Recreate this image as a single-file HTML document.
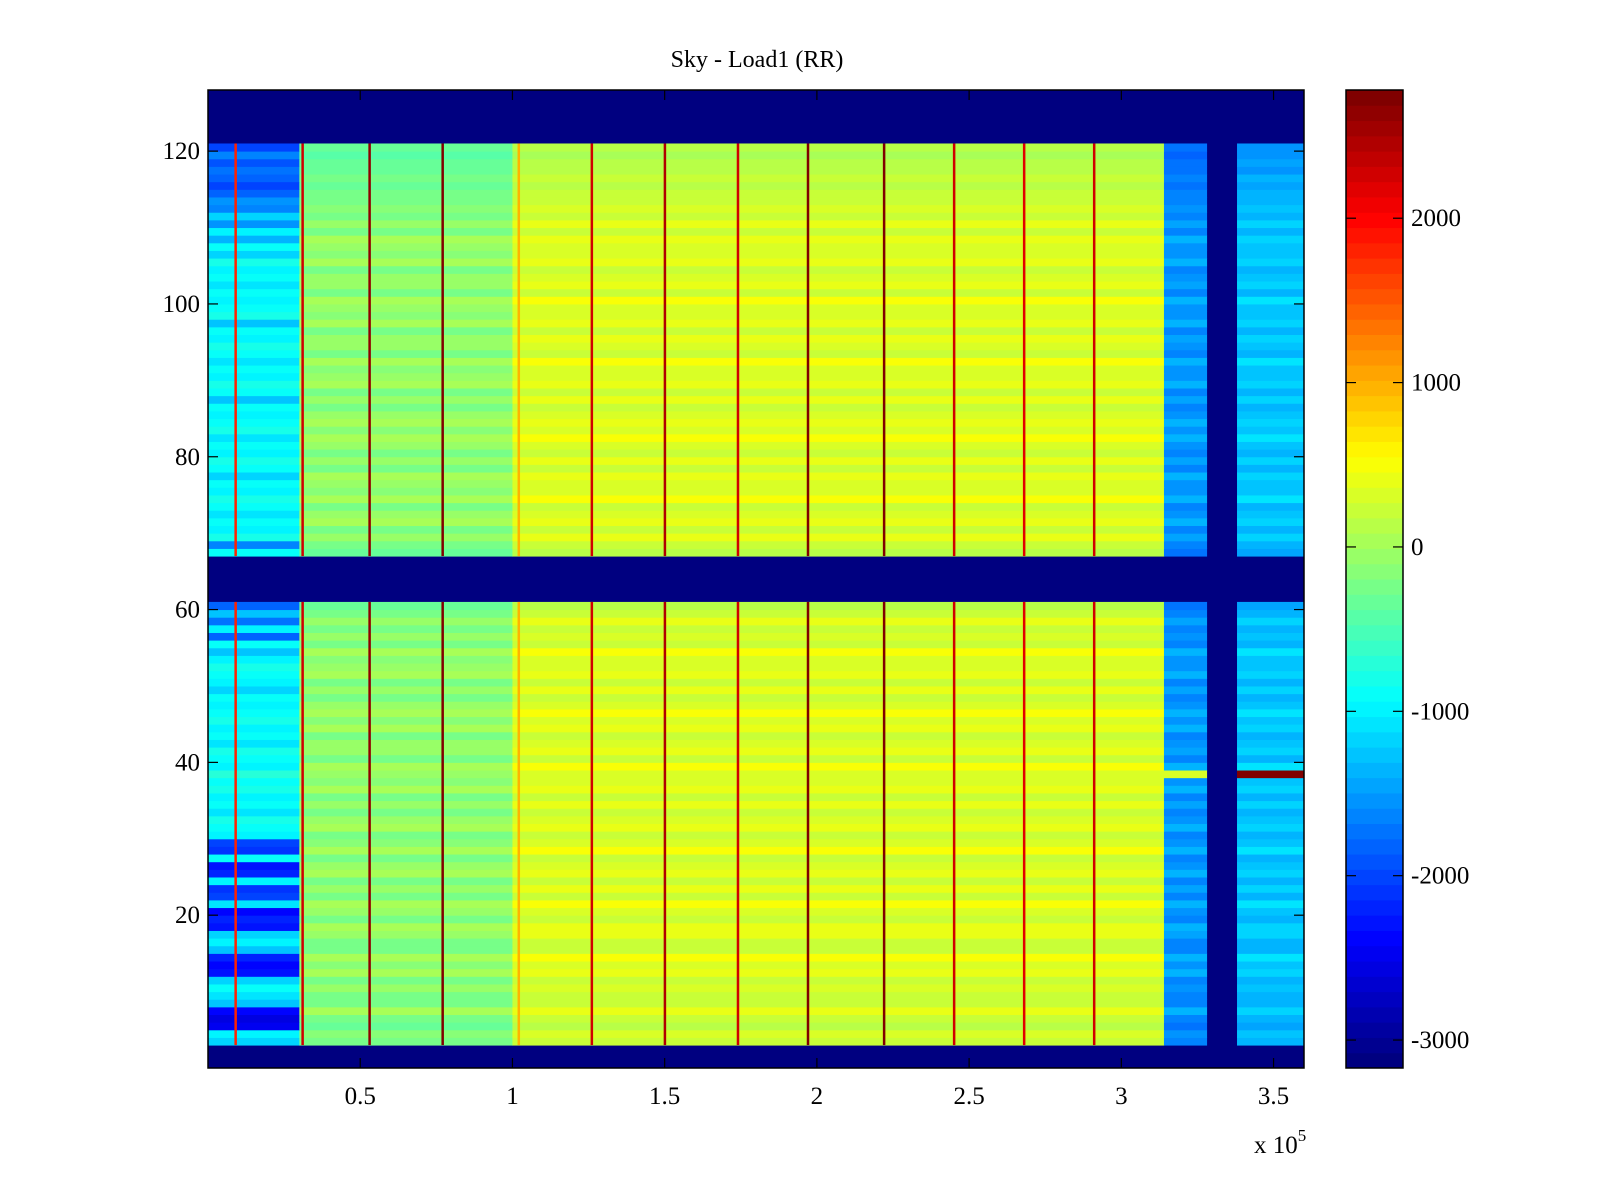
<!DOCTYPE html>
<html><head><meta charset="utf-8"><style>
html,body{margin:0;padding:0;background:#fff;}
svg{display:block;font-family:"Liberation Serif",serif;}
</style></head><body>
<svg id="chart" width="1600" height="1200">
<text x="757" y="67" font-size="24" text-anchor="middle">Sky - Load1 (RR)</text>
<g id="plot"></g>
<g id="axes"></g>
<g id="cbar"></g>
</svg>
<script>
// ---- data ----
const xTicks = [0.5, 1, 1.5, 2, 2.5, 3, 3.5];
const yTicks = [20, 40, 60, 80, 100, 120];
const cbarTicks = [-3000, -2000, -1000, 0, 1000, 2000];
const bandStart = [0, 0.3, 1.0, 3.14, 3.38];
const bandEnd   = [0.3, 1.0, 3.14, 3.28, 3.6];
const bandBase  = [null, -100, 350, -1500, -1250];
// data row blocks (other rows are empty / lowest colour)
const blockFirstRow = [4, 68];
// left band values, rows 4..61 and rows 68..121
const leftLower = [
 -1200,-1000,-2500,-2600,-2400,
 -1300,-1100,-900,-1200,-2300,-2400,-2200,-1300,
 -1000,-1200,-2300,-2200,-2400,-1100,-2000,-2100,
 -1000,-2200,-2300,-900,-2100,-2000,-1000,-900,
 -800,-1100,-900,-1000,-800,-900,-700,-1000,
 -900,-800,-1100,-900,-1000,-800,-900,-1000,
 -900,-1200,-1000,-900,-800,-1000,-1300,-900,
 -1800,-1000,-1700,-1300,-1800
];
const leftUpper = [
 -900,-1600,-800,-1000,-900,-1100,-900,-800,
 -1000,-900,-1200,-900,-800,-1000,-900,-1100,
 -800,-900,-1000,-900,-1300,-900,-800,-1000,
 -900,-1100,-900,-800,-1000,-900,-1300,-800,
 -900,-1000,-900,-1100,-900,-1000,-800,-1200,
 -900,-1400,-1000,-1500,-1200,-1600,-1500,-1800,
 -2000,-1800,-1700,-1900,-1600,-2000
];
// per-row offsets for the other bands
const offLower = [
 -150,-50,-200,-100,100,
 -100,-150,0,-100,100,-50,150,-100,
 -150,50,100,-150,0,150,-100,50,
 -150,100,0,-150,150,-50,-100,100,
 0,-150,50,-100,100,-50,0,150,
 -100,50,0,-150,100,-50,150,0,
 -100,50,-150,100,0,-50,150,-100,
 0,-150,50,-100,-200
];
const offUpper = [
 -200,-100,50,-150,100,0,-100,150,
 -50,0,100,-150,50,-100,0,150,
 -50,100,0,-150,50,-100,100,0,
 -50,150,-100,0,50,-150,100,-50,
 0,150,-100,50,0,-150,100,-50,
 0,100,-150,50,-100,-50,-150,-100,
 -200,-150,-250,-200,-300,-250
];
const specialRow = 39;
const specialBandValues = [null, null, null, 300, 2700];
const stripeX = [0.09, 0.31, 0.53, 0.77, 1.02, 1.26, 1.50, 1.74, 1.97, 2.22, 2.45, 2.68, 2.91];
const stripeVal = [1800, 2300, 2600, 2700, 1000, 2300, 2500, 2300, 2700, 2700, 2300, 2200, 2300];

// ---- scales ----
const X0=208, X1=1304, Y0=90, Y1=1068, XMAX=3.6, NR=128;
const CMIN=-3170, CMAX=2780;
const xs = v => X0 + v/XMAX*(X1-X0);
const rowH = (Y1-Y0)/NR;
const ys = r => Y1 - r*rowH;
function jet(t){
  t=Math.max(0,Math.min(1,t));
  t=Math.floor(t*63.999)/63;
  const f=x=>Math.max(0,Math.min(1,x));
  const r=f(1.5-Math.abs(4*t-3)), g=f(1.5-Math.abs(4*t-2)), b=f(1.5-Math.abs(4*t-1));
  return `rgb(${Math.round(r*255)},${Math.round(g*255)},${Math.round(b*255)})`;
}
const col = v => jet((v-CMIN)/(CMAX-CMIN));
const NS="http://www.w3.org/2000/svg";
function mk(tag, attrs, parent){const e=document.createElementNS(NS,tag);for(const k in attrs)e.setAttribute(k,attrs[k]);parent.appendChild(e);return e;}

const plot=document.getElementById('plot');
const bg=mk('rect',{x:X0,y:Y0,width:X1-X0,height:Y1-Y0,fill:col(CMIN)},plot);


const blocks=[[leftLower,offLower],[leftUpper,offUpper]];
blocks.forEach(([lv,ov],bi)=>{
  lv.forEach((lval,i)=>{
    const r=blockFirstRow[bi]+i;
    for(let b=0;b<bandStart.length;b++){
      let v = b===0 ? lval : bandBase[b]+ov[i];
      if(r===specialRow && specialBandValues[b]!==null) v=specialBandValues[b];
      const c=mk('rect',{x:xs(bandStart[b]),y:ys(r),width:xs(bandEnd[b])-xs(bandStart[b])+0.5,height:rowH+0.5,fill:col(v)},plot);
      
      
    }
  });
});
blocks.forEach(([lv],bi)=>{
  const a=blockFirstRow[bi], b=a+lv.length-1;
  stripeX.forEach((sx,i)=>{
    const s=mk('rect',{x:xs(sx)-1,y:ys(b),width:2.5,height:(b-a+1)*rowH,fill:col(stripeVal[i])},plot);
    
    
  });
});

// ---- axes ----
const ax=document.getElementById('axes');
const frame=mk('rect',{x:X0,y:Y0,width:X1-X0,height:Y1-Y0,fill:'none',stroke:'#000','stroke-width':1.5},ax);


xTicks.forEach(t=>{
  const x=xs(t);
  mk('line',{x1:x,y1:Y1,x2:x,y2:Y1-10,stroke:'#000','stroke-width':1.2},ax);
  mk('line',{x1:x,y1:Y0,x2:x,y2:Y0+10,stroke:'#000','stroke-width':1.2},ax);
  const l=mk('text',{x:x,y:Y1+36,'font-size':25,'text-anchor':'middle'},ax);
  l.textContent=String(t);
  
  
});
yTicks.forEach(t=>{
  const y=Y1-(t)*rowH;
  mk('line',{x1:X0,y1:y,x2:X0+10,y2:y,stroke:'#000','stroke-width':1.2},ax);
  mk('line',{x1:X1,y1:y,x2:X1-10,y2:y,stroke:'#000','stroke-width':1.2},ax);
  const l=mk('text',{x:X0-8,y:y+8,'font-size':25,'text-anchor':'end'},ax);
  l.textContent=String(t);
  
  
});
const ex=mk('text',{x:1254,y:1153,'font-size':25},ax);
ex.innerHTML='x 10<tspan dy="-12" font-size="17">5</tspan>';



// ---- colorbar ----
const cb=document.getElementById('cbar');
const CX0=1346, CX1=1403;
const cy = v => Y1 - (v-CMIN)/(CMAX-CMIN)*(Y1-Y0);
for(let i=0;i<64;i++){
  const y0=Y1-(i+1)*(Y1-Y0)/64;
  const s=mk('rect',{x:CX0,y:y0,width:CX1-CX0,height:(Y1-Y0)/64+0.5,fill:jet(i/63)},cb);
  
  
}
const cf=mk('rect',{x:CX0,y:Y0,width:CX1-CX0,height:Y1-Y0,fill:'none',stroke:'#000','stroke-width':1.5},cb);


cbarTicks.forEach(t=>{
  const y=cy(t);
  mk('line',{x1:CX0,y1:y,x2:CX0+10,y2:y,stroke:'#000','stroke-width':1.2},cb);
  mk('line',{x1:CX1,y1:y,x2:CX1-10,y2:y,stroke:'#000','stroke-width':1.2},cb);
  const l=mk('text',{x:CX1+8,y:y+8,'font-size':25},cb);
  l.textContent=String(t);
  
  
});
</script>
</body></html>
